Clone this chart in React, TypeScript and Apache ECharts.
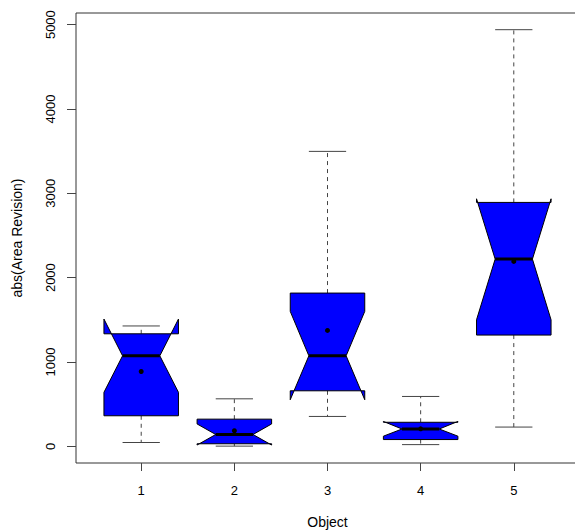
import React, { useEffect, useRef } from "react";
import * as echarts from "echarts";

const categories = [1, 2, 3, 4, 5];
const lowerWhisker = [45, 2, 354, 20, 228];
const q1 = [362, 30, 658, 80, 1319];
const median = [1073, 140, 1073, 205, 2220];
const q3 = [1334, 322, 1817, 285, 2892];
const upperWhisker = [1427, 563, 3497, 591, 4940];
const notchLow = [640, 15, 552, 120, 1500];
const notchHigh = [1509, 265, 1600, 295, 2935];
const means = [887, 184, 1374, 207, 2192];
const yTicks = [0, 1000, 2000, 3000, 4000, 5000];

const FONT = "'Liberation Sans', Arial, Helvetica, sans-serif";

export default function App() {
  const ref = useRef<HTMLDivElement>(null);
  useEffect(() => {
    if (!ref.current) return;
    const chart = echarts.init(ref.current, undefined, { renderer: "svg" });
    const data = categories.map((c, i) => [
      c,
      lowerWhisker[i],
      q1[i],
      median[i],
      q3[i],
      upperWhisker[i],
      notchLow[i],
      notchHigh[i],
      means[i],
    ]);
    const renderItem = (params: any, api: any) => {
      const x = api.value(0);
      const lw = api.value(1);
      const b1 = api.value(2);
      const md = api.value(3);
      const b3 = api.value(4);
      const uw = api.value(5);
      const nl = api.value(6);
      const nh = api.value(7);
      const mn = api.value(8);
      const w = api.size([0.4, 0])[0];
      const c = (yy: number) => api.coord([x, yy]);
      const cx = c(md)[0];
      const Y = (v: number) => c(v)[1];
      const lineStyle = { stroke: "#444", lineWidth: 1, fill: null };
      const dashed = { ...lineStyle, lineDash: [4, 4] };
      const pts = [
        [cx - w, Y(b1)],
        [cx + w, Y(b1)],
        [cx + w, Y(nl)],
        [cx + w / 2, Y(md)],
        [cx + w, Y(nh)],
        [cx + w, Y(b3)],
        [cx - w, Y(b3)],
        [cx - w, Y(nh)],
        [cx - w / 2, Y(md)],
        [cx - w, Y(nl)],
      ];
      return {
        type: "group",
        children: [
          { type: "line", shape: { x1: cx, y1: Y(b1), x2: cx, y2: Y(lw) }, style: dashed },
          { type: "line", shape: { x1: cx, y1: Y(b3), x2: cx, y2: Y(uw) }, style: dashed },
          { type: "line", shape: { x1: cx - w / 2, y1: Y(lw), x2: cx + w / 2, y2: Y(lw) }, style: lineStyle },
          { type: "line", shape: { x1: cx - w / 2, y1: Y(uw), x2: cx + w / 2, y2: Y(uw) }, style: lineStyle },
          { type: "polygon", shape: { points: pts }, style: { fill: "#0000FF", stroke: "#000", lineWidth: 1 } },
          { type: "line", shape: { x1: cx - w / 2, y1: Y(md), x2: cx + w / 2, y2: Y(md) }, style: { stroke: "#000", lineWidth: 3 } },
          { type: "circle", shape: { cx: cx, cy: Y(mn), r: 2.5 }, style: { fill: "#000" } },
        ],
      };
    };
    chart.setOption({
      animation: false,
      grid: {
        left: 76,
        top: 13,
        right: -4,
        bottom: 68,
        show: true,
        borderColor: "#333",
        borderWidth: 1,
        backgroundColor: "transparent",
        containLabel: false,
        outerBoundsMode: "none",
      },
      xAxis: {
        type: "value",
        min: 0.3,
        max: 5.7,
        name: "Object",
        nameLocation: "middle",
        nameGap: 52,
        nameTextStyle: { fontFamily: FONT, fontSize: 14, color: "#000", verticalAlign: "top" },
        axisLine: { show: false, onZero: false },
        splitLine: { show: false },
        axisTick: { show: true, length: 8, customValues: categories, lineStyle: { color: "#444" } },
        axisLabel: {
          customValues: categories,
          margin: 21,
          fontFamily: FONT,
          fontSize: 13,
          color: "#000",
          formatter: (v: number) => String(v),
        },
      },
      yAxis: {
        type: "value",
        min: -198,
        max: 5138,
        name: "abs(Area Revision)",
        nameLocation: "middle",
        nameGap: 52,
        nameRotate: 90,
        nameTextStyle: { fontFamily: FONT, fontSize: 14, color: "#000" },
        axisLine: { show: false, onZero: false },
        splitLine: { show: false },
        axisTick: { show: true, length: 9, customValues: yTicks, lineStyle: { color: "#444" } },
        axisLabel: {
          customValues: yTicks,
          rotate: 90,
          margin: 19,
          fontFamily: FONT,
          fontSize: 13,
          color: "#000",
          formatter: (v: number) => String(v),
        },
      },
      series: [
        {
          type: "custom",
          renderItem,
          data,
          encode: { x: 0, y: [1, 2, 3, 4, 5] },
          clip: false,
        },
      ],
    });
    return () => chart.dispose();
  }, []);
  return (
    <div
      ref={ref}
      style={{ position: "fixed", left: 0, top: 0, width: 575, height: 531, background: "#fff" }}
    />
  );
}
